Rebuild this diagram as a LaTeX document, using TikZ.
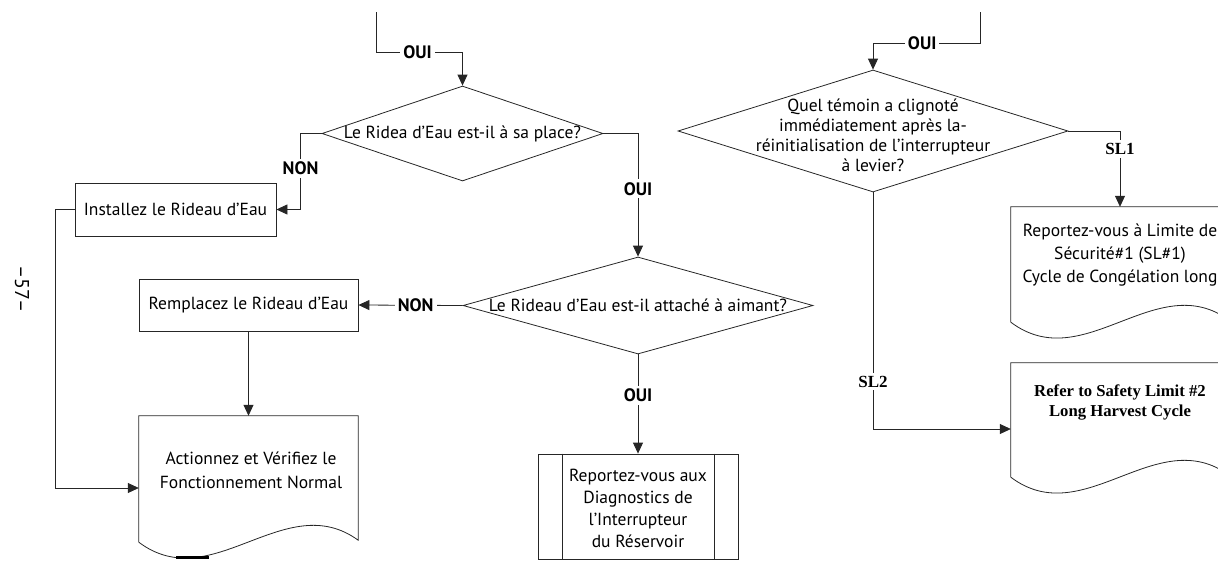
\documentclass[tikz,border=0pt]{standalone}
\usepackage{fontspec}
\setmainfont{PT Sans}
\newfontfamily\serifface{Liberation Serif}
\usetikzlibrary{shapes.geometric,arrows.meta,calc}
\newcommand\txtfont{\fontsize{17.5}{22}\selectfont}
\newcommand\lblfont{\fontsize{18}{20}\selectfont\bfseries}
\newcommand\slfont{\fontsize{17}{20}\serifface\bfseries}
\newcommand\drawdoc[1]{%
  \draw[line] (#1.south west) -- (#1.north west) -- (#1.north east) -- ([yshift=2pt]#1.south east)
    .. controls ([xshift=-73pt,yshift=55pt]#1.south east) and ([xshift=73pt,yshift=-55pt]#1.south west) .. (#1.south west);}
\begin{document}
\begin{tikzpicture}[x=1pt,y=-1pt,
  line/.style={draw=black!85, line width=0.8pt},
  arr/.style={line, -{Triangle[length=11pt,width=10pt]}},
  box/.style={rectangle, draw=black!85, line width=0.8pt, inner sep=0pt},
  dia/.style={diamond, draw=black!85, line width=0.8pt, inner sep=0pt},
  docnode/.style={rectangle, inner sep=0pt},
  txt/.style={font=\txtfont, align=center, inner sep=0pt},
  lbl/.style={font=\lblfont, fill=white, inner sep=3pt},
  sl/.style={font=\slfont, fill=white, inner sep=3pt}]
\useasboundingbox (0,0) rectangle (1218,560);

% page number
\node[rotate=-90, font=\fontsize{20}{22}\selectfont, inner sep=0] (pg) at (22,289) {–57–};

% left column
\coordinate (in1) at (376,12);
\node[dia, minimum width=281pt, minimum height=95pt] (d1) at (462.5,133.5) {};
\node[txt] (t1) at (d1) {Le Ridea d’Eau est-il à sa place?};
\node[box, minimum width=201pt, minimum height=53pt] (b1) at (175.5,209.5) {};
\node[txt] (tb1) at (b1) {Installez le Rideau d’Eau};
\node[dia, minimum width=350pt, minimum height=97pt] (d2) at (638,305.5) {};
\node[txt] (t2) at (d2) {Le Rideau d’Eau est-il attaché à aimant?};
\node[box, minimum width=219pt, minimum height=52pt] (b2) at (248.5,305) {};
\node[txt] (tb2) at (b2) {Remplacez le Rideau d’Eau};
\node[docnode, minimum width=219pt, minimum height=126pt] (doc1) at (248.5,479) {};
\drawdoc{doc1}
\node[txt, font=\fontsize{17.5}{24}\selectfont] (tdoc1) at (251,470) {Actionnez et Vérifiez le\\Fonctionnement Normal};
\draw[line width=2.5pt] (176,557.5) -- (209,557.5);
\node[box, minimum width=200pt, minimum height=105pt] (p1) at (638,506.5) {};
\draw[line] ([xshift=25pt]p1.north west) -- ([xshift=25pt]p1.south west);
\draw[line] ([xshift=-24pt]p1.north east) -- ([xshift=-24pt]p1.south east);
\node[txt, font=\fontsize{17.5}{22}\selectfont] (tp1) at (638,508) {Reportez-vous aux\\Diagnostics de\\l’Interrupteur\\du Réservoir};

% right column
\coordinate (in2) at (980,12);
\node[dia, minimum width=390pt, minimum height=122pt] (d3) at (873,131) {};
\node[txt, font=\fontsize{17.5}{20}\selectfont] (t3) at (873,135) {Quel témoin a clignoté\\immédiatement après la-\\réinitialisation de l’interrupteur\\à levier?};
\node[docnode, minimum width=218pt, minimum height=115pt] (doc2) at (1120,264.5) {};
\drawdoc{doc2}
\node[txt, font=\fontsize{17.5}{23}\selectfont] (tdoc2) at (1120,255) {Reportez-vous à Limite de\\Sécurité\#1 (SL\#1)\\Cycle de Congélation long};
\node[docnode, minimum width=218pt, minimum height=114pt] (doc3) at (1120,420) {};
\drawdoc{doc3}
\node[txt, font=\fontsize{16.7}{20}\serifface\bfseries] (tdoc3) at (1120,402) {Refer to Safety Limit \#2\\Long Harvest Cycle};

% connectors
\draw[arr] (in1) |- node[lbl, pos=0.74] {OUI} ([yshift=33pt]d1.north) -- (d1.north);
\draw[arr] (d1.east) -| node[lbl, pos=0.725] {OUI} (d2.north);
\draw[arr] (d1.west) -- ([xshift=-21pt]d1.west) |- node[lbl, pos=0.23] {NON} (b1.east);
\draw[arr] (b1.west) -- ([xshift=-19pt]b1.west) |- ([yshift=-9pt]doc1.west);
\draw[arr] (d2.west) -- node[lbl, pos=0.45] {NON} (b2.east);
\draw[arr] (b2.south) -- (doc1.north);
\draw[arr] (d2.south) -- node[lbl, pos=0.41] {OUI} (p1.north);
\draw[arr] (in2) |- node[lbl, pos=0.77] {OUI} ([yshift=26pt]d3.north) -- (d3.north);
\draw[arr] (d3.east) -| node[sl, pos=0.62] {SL1} (doc2.north);
\draw[arr] (d3.south) |- node[sl, pos=0.40] {SL2} ([yshift=-9pt]doc3.west);
\end{tikzpicture}
\end{document}
